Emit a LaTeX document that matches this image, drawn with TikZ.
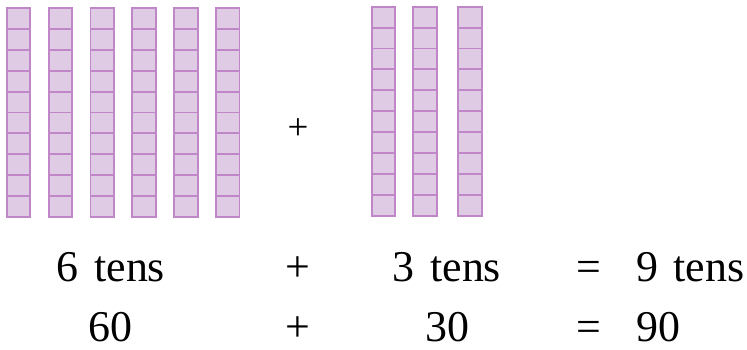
\documentclass[tikz,border=0pt]{standalone}
\usepackage{fontspec}
\setmainfont{Liberation Serif}
\definecolor{rodfill}{RGB}{223,203,228}
\definecolor{rodline}{RGB}{192,135,200}
\tikzset{
  unitcell/.style={fill=rodfill, draw=rodline, line width=1.1pt},
  sumtext/.style={inner sep=0pt, font=\fontsize{25}{29}\selectfont}
}
\begin{document}
\begin{tikzpicture}[x=0.02cm, y=-0.02cm]
    \useasboundingbox (0,0) rectangle (747,350);
    % Seis decenas
    \foreach \x in {6.7,48.6,90.5,132.4,174.3,216.2} {
        \foreach \k in {0,...,9} {
            \draw[unitcell] (\x,8.3+20.84*\k) rectangle ++(23.3,20.84);
        }
    }
    % Tres decenas
    \foreach \x in {371.7,413.3,458.3} {
        \foreach \k in {0,...,9} {
            \draw[unitcell] (\x,6.7+20.9*\k) rectangle ++(23.3,20.9);
        }
    }
    \node[inner sep=0pt, font=\fontsize{21}{24}\selectfont] (plusrods) at (298,129) {+};

    % Fila de decenas
    \node[sumtext, anchor=base] (sixtens) at (111,282) {6\hspace{0.1em} tens};
    \node[sumtext, anchor=base] (plusa) at (298,282) {+};
    \node[sumtext, anchor=base] (threetens) at (447,282) {3\hspace{0.1em} tens};
    \node[sumtext, anchor=base] (eqa) at (589,282) {=};
    \node[sumtext, anchor=base west] (ninetens) at (636,282) {9\hspace{0.1em} tens};

    % Fila de números
    \node[sumtext, anchor=base] (sixty) at (110,342) {60};
    \node[sumtext, anchor=base] (plusb) at (298,342) {+};
    \node[sumtext, anchor=base] (thirty) at (447,342) {30};
    \node[sumtext, anchor=base] (eqb) at (589,342) {=};
    \node[sumtext, anchor=base west] (ninety) at (636,342) {90};
\end{tikzpicture}
\end{document}
